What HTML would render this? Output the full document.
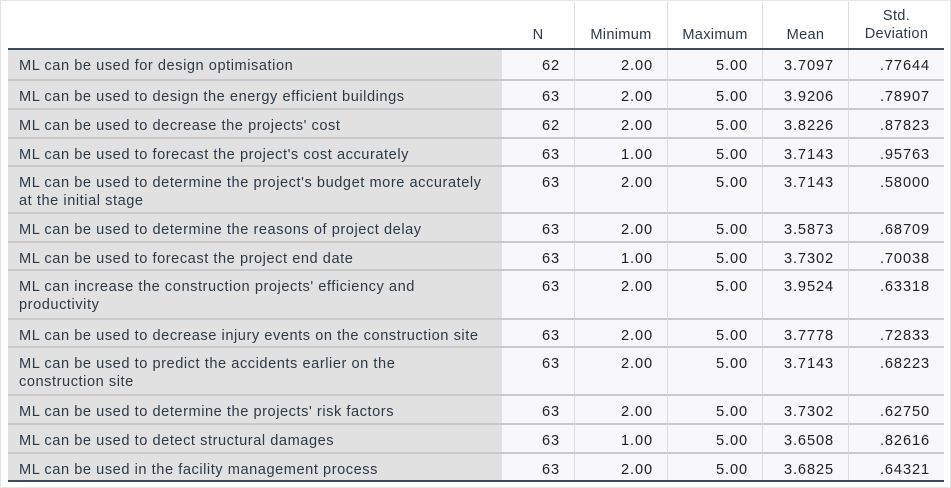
<!DOCTYPE html>
<html><head><meta charset="utf-8"><style>
html,body{margin:0;padding:0;}
body{width:951px;height:488px;background:#fff;position:relative;overflow:hidden;font-family:"Liberation Sans",Arial,sans-serif;}
.frame{position:absolute;left:0;top:0;width:949px;height:486px;border:1px solid #e6e6e6;}
.c{position:absolute;box-sizing:border-box;font-size:14.6px;color:#2c3a48;letter-spacing:0.55px;}
.lab{background:#e1e1e1;left:8px;width:494px;padding:7px 0 0 11px;line-height:18px;border-top:2px solid #c9c9c9;white-space:nowrap;}
.num{background:#f8f8fa;text-align:right;padding-right:14px;padding-top:2px;line-height:29px;border-top:2px solid #c9c9c9;border-left:1px solid #dcdcdc;color:#222;letter-spacing:0.9px;}
.hd{text-align:center;color:#2c3a48;line-height:18px;border-left:1px solid #dcdcdc;top:2px;height:46px;letter-spacing:0.3px;}
.line{position:absolute;left:8px;width:936px;height:2px;background:#3e4c5a;}
</style></head><body>
<div class="frame"></div>
<div class="c hd" style="left:502px;width:72px;border-left:none;padding-top:24px">N</div>
<div class="c hd" style="left:574px;width:93px;padding-top:24px">Minimum</div>
<div class="c hd" style="left:667px;width:95px;padding-top:24px">Maximum</div>
<div class="c hd" style="left:762px;width:86px;padding-top:24px">Mean</div>
<div class="c hd" style="left:848px;width:96px;padding-top:5px">Std.<br>Deviation</div>
<div class="line" style="top:48px"></div>
<div id="rows"></div>
<div class="line" style="top:480px"></div>
<script>
var d=[
["ML can be used for design optimisation","62","2.00","5.00","3.7097",".77644",50,79],
["ML can be used to design the energy efficient buildings","63","2.00","5.00","3.9206",".78907",79,108],
["ML can be used to decrease the projects' cost","62","2.00","5.00","3.8226",".87823",108,137],
["ML can be used to forecast the project's cost accurately","63","1.00","5.00","3.7143",".95763",137,165],
["ML can be used to determine the project's budget more accurately<br>at the initial stage","63","2.00","5.00","3.7143",".58000",165,212],
["ML can be used to determine the reasons of project delay","63","2.00","5.00","3.5873",".68709",212,241],
["ML can be used to forecast the project end date","63","1.00","5.00","3.7302",".70038",241,269],
["ML can increase the construction projects' efficiency and<br>productivity","63","2.00","5.00","3.9524",".63318",269,318],
["ML can be used to decrease injury events on the construction site","63","2.00","5.00","3.7778",".72833",318,346],
["ML can be used to predict the accidents earlier on the<br>construction site","63","2.00","5.00","3.7143",".68223",346,394],
["ML can be used to determine the projects' risk factors","63","2.00","5.00","3.7302",".62750",394,423],
["ML can be used to detect structural damages","63","1.00","5.00","3.6508",".82616",423,452],
["ML can be used in the facility management process","63","2.00","5.00","3.6825",".64321",452,480]];
var cols=[[502,72],[574,93],[667,95],[762,86],[848,96]];
var h="";
d.forEach(function(r,i){
 var t=r[6],b=r[7],ht=b-t;var bt=i==0?"border-top:none;":"";
 h+='<div class="c lab" style="top:'+t+'px;height:'+ht+'px;'+bt+'">'+r[0]+'</div>';
 for(var j=0;j<5;j++){
  h+='<div class="c num" style="'+bt+(j==0?'border-left:none;':'')+'left:'+cols[j][0]+'px;width:'+cols[j][1]+'px;top:'+t+'px;height:'+ht+'px">'+r[j+1]+'</div>';
 }
});
document.getElementById("rows").innerHTML=h;
</script>
</body></html>
